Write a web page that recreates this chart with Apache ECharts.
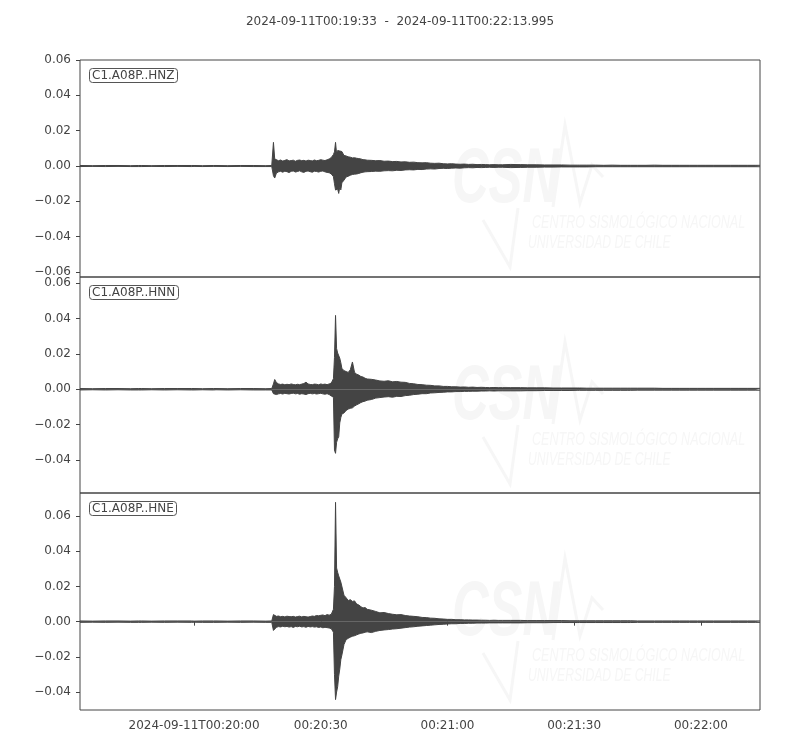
<!DOCTYPE html>
<html><head><meta charset="utf-8">
<script src="https://cdn.jsdelivr.net/npm/echarts@6/dist/echarts.min.js"></script>
<style>html,body{margin:0;padding:0;background:#fff}#c{width:800px;height:750px}</style>
</head><body><div id="c"></div>
<script>
// time: seconds after 2024-09-11T00:00:00
const START_SEC = 19 * 60 + 33;
const END_SEC = 22 * 60 + 13.995;
const TITLE = '2024-09-11T00:19:33  -  2024-09-11T00:22:13.995';
const channels = ['C1.A08P..HNZ', 'C1.A08P..HNN', 'C1.A08P..HNE'];
const xTicks = [1200, 1230, 1260, 1290, 1320];
const yTicks1 = [-0.06, -0.04, -0.02, 0, 0.02, 0.04, 0.06];
const yTicks2 = [-0.04, -0.02, 0, 0.02, 0.04, 0.06];
const yTicks3 = [-0.04, -0.02, 0, 0.02, 0.04, 0.06];
const yRange1 = [-0.0628, 0.06];
const yRange2 = [-0.0586, 0.0634];
const yRange3 = [-0.0502, 0.0731];

// sample times, seconds after 00:19:33
const T = [0,3,6,9,12,13.9,14.2,14.5,17,20,23,26.4,26.7,27,29,31.6,31.9,32.2,35,38,41,44,45.4,
  45.8,46.1,46.5,47,47.5,48,48.5,49,49.5,50,50.5,51,51.5,52,52.5,53,53.5,54,54.5,55,55.5,56,56.5,57,57.5,58,58.5,59,59.5,
  60,60.25,60.5,60.75,61,61.25,61.5,61.75,62,62.5,63,63.5,64,64.5,65,65.5,66,66.5,67,67.5,68,
  69,70,71,72,73,74,75,76,77,78,79,80,81,82,83,84,85,86,87,88,89,90,91,92,93,94,95,96,97,98,99,100,
  102,103.7,104,104.3,106,108,110,112,114,116,117.7,118,118.3,120,122,124,126,128,129.7,130,130.3,
  132,134,136,138,140,142,143.7,144,144.3,146.2,146.5,146.8,148,150,152,154,156,158,160,161];

// envelope (max / min per sample window), in units of 1e-4
const hnzUpper = [3,2,3,3,2,3,6,3,2,3,3,3,2,3,2,3,3,3,2,3,3,2,3,
  134,40,35,30,34,28,32,36,29,31,33,27,32,34,30,32,28,33,31,29,34,30,32,36,33,31,35,40,48,
  65,80,134,70,88,90,85,86,82,60,57,52,50,46,47,44,42,40,36,35,33,
  32,30,31,27,28,25,26,23,24,21,22,19,18,19,16,15,16,13,12,13,11,10,11,9,10,8,9,8,7,8,7,7,
  9,8,8,8,7,7,6,6,6,5,5,8,5,5,5,4,5,4,4,7,4,4,4,5,4,4,4,4,6,4,4,4,4,4,4,4,4,4,4,4,4];
const hnzLower = [-3,-2,-3,-2,-3,-3,-6,-3,-2,-3,-2,-3,-3,-2,-3,-2,-3,-2,-3,-2,-3,-3,-3,
  -55,-68,-40,-33,-30,-35,-29,-32,-37,-30,-28,-34,-31,-27,-33,-36,-30,-28,-32,-35,-29,-31,-34,-30,-28,-33,-36,-38,-45,
  -60,-100,-136,-125,-130,-155,-120,-135,-95,-80,-62,-58,-52,-48,-46,-45,-42,-38,-35,-33,-32,
  -31,-29,-30,-27,-26,-27,-24,-25,-22,-21,-22,-19,-20,-17,-16,-17,-14,-13,-14,-12,-11,-12,-10,-9,-10,-8,-9,-8,-7,-8,-7,-7,
  -9,-8,-8,-8,-7,-7,-6,-6,-5,-5,-5,-12,-5,-5,-4,-4,-4,-4,-4,-10,-4,-4,-4,-4,-4,-4,-4,-4,-9,-4,-4,-4,-4,-4,-4,-4,-4,-4,-4,-4,-4];
const hnnUpper = [4,3,4,4,3,4,9,4,3,4,4,4,8,4,3,4,4,4,3,4,4,3,4,
  30,55,38,30,27,29,25,28,26,30,27,25,28,26,29,32,40,30,27,26,29,28,25,30,27,29,26,30,35,
  60,180,417,230,205,200,175,150,118,105,100,95,110,154,95,85,80,72,69,62,58,
  56,52,47,45,48,42,44,40,39,33,31,27,26,23,22,19,19,16,16,14,14,12,13,11,12,10,11,10,9,10,9,9,
  9,9,9,9,8,8,8,7,7,7,7,11,7,6,6,6,6,6,6,6,6,6,6,6,5,5,5,5,5,5,5,9,5,5,5,5,5,5,5,5,5];
const hnnLower = [-4,-3,-4,-3,-4,-4,-8,-4,-3,-4,-3,-4,-8,-4,-3,-4,-4,-3,-4,-3,-4,-4,-4,
  -25,-34,-30,-26,-24,-27,-23,-25,-27,-24,-22,-26,-24,-28,-25,-27,-30,-25,-23,-26,-24,-27,-25,-23,-26,-28,-25,-30,-38,
  -45,-343,-362,-300,-280,-268,-190,-160,-140,-134,-120,-112,-108,-105,-95,-88,-82,-75,-70,-67,-62,
  -58,-50,-47,-44,-42,-45,-40,-41,-36,-34,-30,-28,-25,-25,-21,-20,-18,-17,-15,-15,-13,-13,-12,-12,-11,-11,-10,-10,-9,-10,-9,-9,
  -9,-9,-9,-9,-8,-8,-7,-7,-7,-7,-6,-11,-6,-6,-6,-6,-6,-6,-6,-6,-6,-5,-5,-5,-5,-5,-5,-5,-5,-5,-5,-9,-5,-5,-5,-5,-5,-5,-5,-5,-5];
const hneUpper = [4,3,4,4,3,4,9,4,3,4,4,4,4,3,4,4,9,4,3,4,4,3,4,
  40,35,30,32,28,30,27,31,29,28,30,26,29,31,27,30,28,26,29,32,30,35,33,36,38,34,40,37,42,
  70,200,678,305,280,260,250,225,220,150,136,120,125,115,118,100,95,85,78,80,70,
  65,58,50,52,46,42,39,40,35,32,30,28,24,23,20,19,16,15,13,13,11,11,10,10,9,9,8,8,7,8,7,7,
  7,7,9,7,6,6,6,6,6,5,5,5,5,5,5,5,5,5,5,7,5,4,4,4,4,4,4,4,4,4,4,4,4,4,4,4,4,4,4,4,4];
const hneLower = [-4,-3,-4,-3,-4,-4,-8,-4,-3,-4,-3,-4,-4,-3,-4,-4,-9,-4,-3,-4,-3,-4,-4,
  -50,-40,-32,-28,-30,-26,-29,-27,-31,-28,-33,-27,-29,-26,-30,-28,-32,-27,-30,-28,-31,-29,-33,-30,-35,-32,-34,-36,-40,
  -60,-300,-443,-400,-370,-310,-270,-216,-190,-130,-102,-95,-88,-83,-80,-75,-70,-66,-64,-60,-58,
  -62,-55,-50,-47,-45,-42,-40,-37,-34,-31,-29,-26,-24,-22,-20,-18,-16,-15,-13,-12,-12,-10,-10,-9,-9,-8,-8,-8,-7,-7,-7,-7,
  -7,-7,-10,-7,-6,-6,-6,-5,-5,-5,-5,-5,-5,-5,-5,-5,-5,-5,-5,-8,-5,-4,-4,-4,-4,-4,-4,-4,-4,-4,-4,-4,-4,-4,-4,-4,-4,-4,-4,-4,-4];

const UNIT = 1e-4;
const envelopes = [[hnzUpper, hnzLower], [hnnUpper, hnnLower], [hneUpper, hneLower]];
const yTicksAll = [yTicks1, yTicks2, yTicks3];
const yRanges = [yRange1, yRange2, yRange3];

const FONT = '"DejaVu Sans", sans-serif';
const TXT = '#444';
const TRACE = '#444';
const grids = [
  {left: 80, width: 680, top: 60, height: 217},
  {left: 80, width: 680, top: 277, height: 216},
  {left: 80, width: 680, top: 493, height: 217}
];

function pad(n) { return (n < 10 ? '0' : '') + n; }
function fmtTime(v) {
  const h = Math.floor(v / 3600), m = Math.floor((v % 3600) / 60), s = Math.round(v % 60);
  const str = pad(h) + ':' + pad(m) + ':' + pad(s);
  return v === xTicks[0] ? '2024-09-11T' + str : str;
}
function fmtY(v) {
  if (Math.abs(v) < 1e-9) return '0.00';
  return v.toFixed(2).replace('-', '\u2212');
}

const option = {
  animation: false,
  backgroundColor: '#fff',
  title: [
    {text: TITLE, left: 'center', top: 11, textStyle: {fontFamily: FONT, fontSize: 12, fontWeight: 'normal', color: TXT}}
  ].concat(channels.map((c, i) => ({
    text: c, left: 89, top: grids[i].top + 8, padding: [1, 3],
    borderColor: '#555', borderWidth: 1, borderRadius: 3, backgroundColor: '#fff',
    textStyle: {fontFamily: FONT, fontSize: 12, fontWeight: 'normal', color: TXT, lineHeight: 13}
  }))),
  grid: grids.map(g => Object.assign({show: true, borderColor: '#444', borderWidth: 1, backgroundColor: 'transparent'}, g)),
  xAxis: grids.map((g, i) => ({
    type: 'value', gridIndex: i, min: START_SEC, max: END_SEC,
    axisLine: {show: false}, splitLine: {show: false},
    axisTick: {show: i === 2, length: 4, inside: false, customValues: xTicks, lineStyle: {color: '#444'}},
    axisLabel: {show: i === 2, customValues: xTicks, formatter: fmtTime, margin: 10,
      fontFamily: FONT, fontSize: 12, color: TXT}
  })),
  yAxis: grids.map((g, i) => ({
    type: 'value', gridIndex: i, min: yRanges[i][0], max: yRanges[i][1],
    axisLine: {show: false}, splitLine: {show: false},
    axisTick: {show: true, length: 4, customValues: yTicksAll[i], lineStyle: {color: '#444'}},
    axisLabel: {show: true, customValues: yTicksAll[i], formatter: fmtY, margin: 9,
      fontFamily: FONT, fontSize: 12, color: TXT}
  })),
  graphic: [],
  series: []
};

envelopes.forEach((env, i) => {
  env.forEach(arr => {
    option.series.push({
      type: 'line', xAxisIndex: i, yAxisIndex: i, symbol: 'none', silent: true,
      data: T.map((t, k) => [START_SEC + t, arr[k] * UNIT]),
      lineStyle: {color: TRACE, width: 1},
      areaStyle: {color: TRACE, opacity: 1, origin: 0},
      z: 3
    });
  });
});

// faint CSN watermark in each panel
const WM = '#f6f6f6';
grids.forEach((g, i) => {
  const oy = g.top - 60;
  option.graphic.push(
    {type: 'text', z: 0, x: 452, y: 180 + oy, scaleX: 0.65,
      style: {text: 'CSN', font: 'italic bold 78px "Liberation Sans", sans-serif', fill: WM, verticalAlign: 'middle', align: 'left'}},
    {type: 'text', z: 0, x: 532, y: 223 + oy, scaleX: 0.66,
      style: {text: 'CENTRO SISMOLÓGICO NACIONAL', font: 'italic 19px "Liberation Sans", sans-serif', fill: WM, verticalAlign: 'middle', align: 'left'}},
    {type: 'text', z: 0, x: 528, y: 243 + oy, scaleX: 0.64,
      style: {text: 'UNIVERSIDAD DE CHILE', font: 'italic 19px "Liberation Sans", sans-serif', fill: WM, verticalAlign: 'middle', align: 'left'}},
    {type: 'polyline', z: 0, shape: {points: [[553, 207 + oy], [565, 125 + oy], [580, 203 + oy], [592, 165 + oy], [603, 177 + oy]]},
      style: {stroke: WM, lineWidth: 3, fill: null}},
    {type: 'polyline', z: 0, shape: {points: [[483, 220 + oy], [510, 267 + oy], [518, 208 + oy]]},
      style: {stroke: WM, lineWidth: 3, fill: null}}
  );
});

const chart = echarts.init(document.getElementById('c'), null, {renderer: 'canvas'});
chart.setOption(option);
</script>
</body></html>
